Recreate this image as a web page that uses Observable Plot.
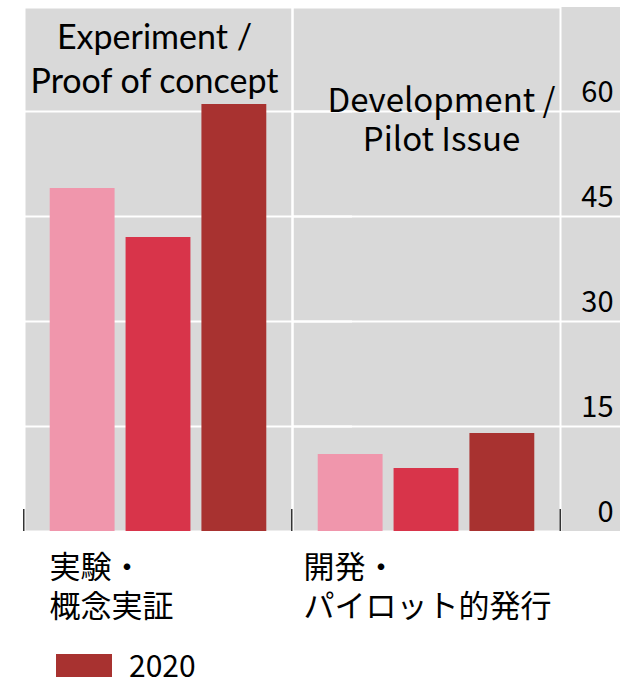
<!DOCTYPE html>
<html>
<head>
<meta charset="utf-8">
<script src="https://cdn.jsdelivr.net/npm/d3@7"></script>
<script src="https://cdn.jsdelivr.net/npm/@observablehq/plot@0.6"></script>
<style>
  body { margin: 0; background: #fff; }
  #chart svg { display: block; }
  #legend { display: flex; align-items: center; height: 23px; margin: 14px 0 0 56px; font-family: "Noto Sans CJK JP", sans-serif; font-size: 30px; line-height: 23px; color: #000; }
  #legend .sw { width: 56px; height: 23px; margin-right: 17px; }
  #legend .lt { position: relative; top: -1px; }
</style>
</head>
<body>
<div id="chart"></div>
<div id="legend"></div>
<script>
// ---- data ----
const categories = ["Experiment / Proof of concept", "Development / Pilot Issue"];
const titles = ["Experiment /\nProof of concept", "Development /\nPilot Issue"];
const jpLabels = ["実験・\n概念実証", "開発・\nパイロット的発行"];
const years = ["2018", "2019", "2020"];
const experimentValues = [49, 42, 61];
const developmentValues = [11, 9, 14];
const yTicks = [0, 15, 30, 45, 60];
const legendYears = ["2020"];
const colors = ["#f096ac", "#d8344a", "#a83230"];

const data = [];
years.forEach((y, i) => data.push({cat: categories[0], year: y, value: experimentValues[i]}));
years.forEach((y, i) => data.push({cat: categories[1], year: y, value: developmentValues[i]}));
const panels = categories.map((c, i) => ({cat: c, title: titles[i], jp: jpLabels[i]}));

const W = 626, H = 640;
const mL = 23, mR = 66, mT = 7, mB = 109;
const panelW = (W - mL - mR) / 2;
const panelH = H - mT - mB;
const gray = "#d9d9d9";
const jpFont = "'Noto Sans CJK JP', 'Noto Sans', sans-serif";

const plot = Plot.plot({
  width: W, height: H,
  marginLeft: mL, marginRight: mR, marginTop: mT, marginBottom: mB,
  fx: {domain: categories, padding: 0, axis: null},
  x: {domain: years, paddingInner: 0.145, paddingOuter: 0.339, axis: null, round: false},
  y: {domain: [0, panelH / 7], axis: null},
  color: {domain: years, range: colors},
  style: {background: "transparent"},
  marks: [
    Plot.frame({fill: gray}),
    Plot.rect([panels[1]], {fx: "cat", fill: gray, insetRight: -(mR - 6)}),
    Plot.ruleY(yTicks.slice(1), {stroke: "white", strokeWidth: 2, insetRight: -(mR - 6)}),
    Plot.frame({stroke: "white", strokeWidth: 2}),
    Plot.barY(data, {fx: "cat", x: "year", y: "value", fill: "year"}),
    // category ticks at panel edges
    Plot.rect(panels, {fx: "cat", fill: "#333", insetTop: panelH - 22, insetLeft: -1, insetRight: panelW - 1}),
    Plot.rect([panels[1]], {fx: "cat", fill: "#333", insetTop: panelH - 22, insetLeft: panelW - 1, insetRight: -1}),
    // y tick labels in the right strip
    Plot.text(yTicks, {y: d => d, fx: () => categories[1], text: d => String(d), frameAnchor: "right", textAnchor: "end", dx: 53, dy: -19, fontSize: 29, fontFamily: jpFont, fill: "#000"}),
    // facet titles
    Plot.text([panels[0]], {fx: "cat", text: "title", frameAnchor: "top", lineAnchor: "top", dx: -4, dy: 10, fontSize: 34, lineHeight: 1.3, fontFamily: "Lato, sans-serif", fill: "#000"}),
    Plot.text([panels[1]], {fx: "cat", text: "title", frameAnchor: "top", lineAnchor: "top", dx: 15, dy: 77, fontSize: 33, lineHeight: 1.18, fontFamily: jpFont, fill: "#000"}),
    // category labels below
    Plot.text([panels[0]], {fx: "cat", text: "jp", frameAnchor: "bottom-left", textAnchor: "start", lineAnchor: "top", dx: 25, dy: 19, fontSize: 31, lineHeight: 1.26, fontFamily: jpFont, fill: "#000"}),
    Plot.text([panels[1]], {fx: "cat", text: "jp", frameAnchor: "bottom-left", textAnchor: "start", lineAnchor: "top", dx: 11, dy: 19, fontSize: 31, lineHeight: 1.26, fontFamily: jpFont, fill: "#000"})
  ]
});
document.getElementById("chart").appendChild(plot);

const legend = document.getElementById("legend");
legendYears.forEach(y => {
  const sw = document.createElement("span");
  sw.className = "sw";
  sw.style.background = colors[years.indexOf(y)];
  const t = document.createElement("span");
  t.className = "lt";
  t.textContent = y;
  legend.appendChild(sw);
  legend.appendChild(t);
});
</script>
</body>
</html>
